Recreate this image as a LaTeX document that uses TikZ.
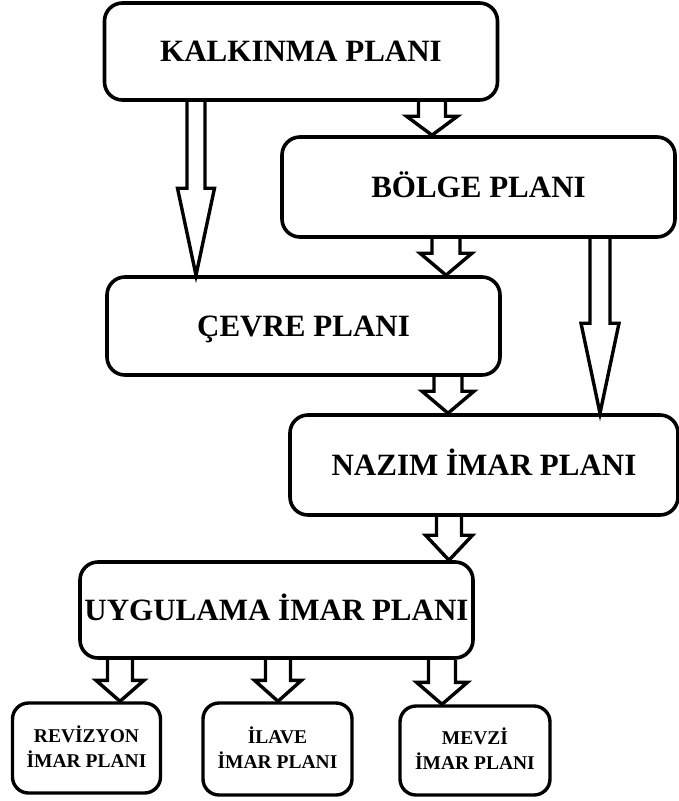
\documentclass[tikz,border=0pt]{standalone}
\usepackage{fontspec}
\setmainfont{Liberation Serif}
\usetikzlibrary{calc}
\newcommand{\blockarrow}[6]{% x, from node, to node, shaft half width, head half width, head length
  \draw[blockarrowline] let \p1=(#1,0 |- #2.south), \p2=(#1,0 |- #3.north) in
    (\x1-#4,\y1) -- (\x1-#4,\y2+#6) -- (\x1-#5,\y2+#6) -- (\x1,\y2)
    -- (\x1+#5,\y2+#6) -- (\x1+#4,\y2+#6) -- (\x1+#4,\y1);}
\begin{document}
\begin{tikzpicture}[x=1pt,y=-1pt,
  plan/.style={draw, line width=3.6pt, rounded corners=18pt, inner sep=0pt,
    font=\fontsize{31}{36}\selectfont\bfseries, text height=20.5pt, text depth=0pt},
  mainbox/.style={plan, minimum width=393pt, minimum height=98pt},
  subbox/.style={draw, line width=3.4pt, rounded corners=16pt, inner sep=0pt,
    minimum width=148pt, minimum height=90pt, align=center,
    font=\fontsize{19.5}{25}\selectfont\bfseries, text height=38pt, text depth=0pt},
  blockarrowline/.style={draw, line width=3.4pt, line join=miter}]
\useasboundingbox (0,0) rectangle (679,801);
\fill[white] (0,0) rectangle (679,801);

\node[mainbox, minimum height=97pt] (kalk) at (301,51.5) {KALKINMA PLANI};
\node[mainbox, minimum height=100pt] (bolge) at (478.5,187) {BÖLGE PLANI};
\node[mainbox] (cevre) at (303.5,326) {ÇEVRE PLANI};
\node[mainbox, minimum width=388pt, minimum height=100pt] (nazim) at (484,465) {NAZIM İMAR PLANI};
\node[mainbox, minimum height=96pt] (uyg) at (276.5,610) {UYGULAMA İMAR PLANI};
\node[subbox] (rev) at (86.5,748) {REVİZYON\\İMAR PLANI};
\node[subbox, minimum width=149pt, minimum height=92pt] (ilave) at (277.5,749) {İLAVE\\İMAR PLANI};
\node[subbox, minimum width=150pt, minimum height=89pt] (mevzi) at (475,750.5) {MEVZİ\\İMAR PLANI};

\blockarrow{432}{kalk}{bolge}{13.5pt}{25.5pt}{19pt}
\blockarrow{196}{kalk}{cevre}{9pt}{18.5pt}{87pt}
\blockarrow{446}{bolge}{cevre}{14pt}{26pt}{22pt}
\blockarrow{600}{bolge}{nazim}{10pt}{19pt}{90pt}
\blockarrow{448}{cevre}{nazim}{14pt}{26pt}{22pt}
\blockarrow{449}{nazim}{uyg}{12.5pt}{23.5pt}{25pt}
\blockarrow{120}{uyg}{rev}{12.5pt}{24pt}{21pt}
\blockarrow{278}{uyg}{ilave}{12.5pt}{23.5pt}{21pt}
\blockarrow{442}{uyg}{mevzi}{13.5pt}{25.5pt}{22pt}
\end{tikzpicture}
\end{document}
